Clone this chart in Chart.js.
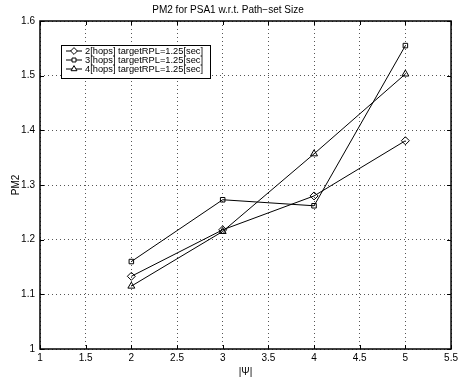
<!DOCTYPE html>
<html lang="en">
<head>
    <meta charset="UTF-8">
    <title>PM2 for PSA1</title>
    <script src="https://cdn.jsdelivr.net/npm/chart.js"></script>
    <style>
        html, body { margin: 0; padding: 0; background: #fff; }
        #wrap { width: 461px; height: 379px; }
    </style>
</head>
<body>
    <div id="wrap"><canvas id="pm2Chart" width="461" height="379"></canvas></div>

    <script>
        const pathSetSizes = [2, 3, 4, 5];
        const hops2 = [1.133, 1.218, 1.280, 1.381];
        const hops3 = [1.160, 1.273, 1.262, 1.555];
        const hops4 = [1.115, 1.215, 1.357, 1.503];
        const seriesLabels = [
            '2[hops] targetRPL=1.25[sec]',
            '3[hops] targetRPL=1.25[sec]',
            '4[hops] targetRPL=1.25[sec]'
        ];
        const markers = ['rectRot', 'rect', 'triangle'];
        const xTicks = [1, 1.5, 2, 2.5, 3, 3.5, 4, 4.5, 5, 5.5];
        const yTicks = [1, 1.1, 1.2, 1.3, 1.4, 1.5, 1.6];

        const FONT = 'Liberation Sans, Arial, sans-serif';

        function toPoints(ys) {
            return pathSetSizes.map((x, i) => ({ x: x, y: ys[i] }));
        }

        function makeSet(label, ys, marker) {
            return {
                label: label,
                data: toPoints(ys),
                showLine: true,
                borderColor: '#000',
                borderWidth: 1,
                pointStyle: marker,
                pointRadius: marker === 'rect' ? 3.2 : 4,
                pointBorderColor: '#000',
                pointBorderWidth: 1,
                pointBackgroundColor: 'rgba(0,0,0,0)'
            };
        }

        // box round the plot with MATLAB style inward ticks
        const boxPlugin = {
            id: 'boxPlugin',
            afterDatasetsDraw(chart) {
                const { ctx, chartArea: a, scales } = chart;
                ctx.save();
                ctx.strokeStyle = '#000';
                ctx.lineWidth = 1;
                ctx.beginPath();
                xTicks.forEach(v => {
                    const px = Math.round(scales.x.getPixelForValue(v)) + 0.5;
                    ctx.moveTo(px, a.bottom); ctx.lineTo(px, a.bottom - 4);
                    ctx.moveTo(px, a.top); ctx.lineTo(px, a.top + 4);
                });
                yTicks.forEach(v => {
                    const py = Math.round(scales.y.getPixelForValue(v)) + 0.5;
                    ctx.moveTo(a.left, py); ctx.lineTo(a.left + 4, py);
                    ctx.moveTo(a.right, py); ctx.lineTo(a.right - 4, py);
                });
                ctx.stroke();
                ctx.lineWidth = 1.5;
                ctx.strokeRect(a.left, a.top, a.right - a.left, a.bottom - a.top);
                ctx.restore();
            }
        };

        // legend box at the upper left, line + marker samples
        const legendPlugin = {
            id: 'legendPlugin',
            afterDraw(chart) {
                const ctx = chart.ctx;
                const bx = 61, by = 45, bw = 149, bh = 33;
                ctx.save();
                ctx.fillStyle = '#fff';
                ctx.fillRect(bx, by, bw, bh);
                ctx.strokeStyle = '#000';
                ctx.lineWidth = 1;
                ctx.strokeRect(bx + 0.5, by + 0.5, bw, bh);
                ctx.font = '9.3px ' + FONT;
                ctx.textBaseline = 'middle';
                chart.data.datasets.forEach((ds, i) => {
                    const y = by + 5.5 + i * 9 + 0.5;
                    ctx.beginPath();
                    ctx.moveTo(66, y); ctx.lineTo(82, y);
                    ctx.stroke();
                    Chart.helpers.drawPoint(ctx, {
                        pointStyle: ds.pointStyle,
                        radius: ds.pointStyle === 'rect' ? 2.8 : 3.4,
                        rotation: 0,
                        borderWidth: 1
                    }, 74, y);
                    ctx.fillStyle = '#000';
                    ctx.fillText(ds.label, 85, y);
                    ctx.fillStyle = '#fff';
                });
                ctx.restore();
            }
        };

        const ctx = document.getElementById('pm2Chart').getContext('2d');
        new Chart(ctx, {
            type: 'scatter',
            data: {
                datasets: [
                    makeSet(seriesLabels[0], hops2, markers[0]),
                    makeSet(seriesLabels[1], hops3, markers[1]),
                    makeSet(seriesLabels[2], hops4, markers[2])
                ]
            },
            options: {
                responsive: false,
                animation: false,
                layout: { padding: { left: 0, right: 5, top: 0, bottom: 0 } },
                plugins: {
                    legend: { display: false },
                    tooltip: { enabled: false },
                    title: {
                        display: true,
                        text: 'PM2 for PSA1 w.r.t. Path\u2212set Size',
                        color: '#000',
                        font: { family: FONT, size: 10, weight: 'normal' },
                        padding: { top: 4, bottom: 5 }
                    }
                },
                scales: {
                    x: {
                        type: 'linear',
                        min: 1,
                        max: 5.5,
                        afterFit: s => { s.height = 30; },
                        afterBuildTicks: s => { s.ticks = xTicks.map(v => ({ value: v })); },
                        ticks: {
                            color: '#000',
                            padding: 3,
                            maxRotation: 0,
                            font: { family: FONT, size: 10 },
                            callback: v => String(v)
                        },
                        grid: { color: '#555', drawTicks: false, lineWidth: 1 },
                        border: { display: false, dash: [1, 3] },
                        title: {
                            display: true,
                            text: '|\u03A8|',
                            color: '#000',
                            font: { family: FONT, size: 10 },
                            padding: { top: 0, bottom: 1 }
                        }
                    },
                    y: {
                        type: 'linear',
                        min: 1,
                        max: 1.6,
                        afterFit: s => { s.width = 40; },
                        afterBuildTicks: s => { s.ticks = yTicks.map(v => ({ value: v })); },
                        ticks: {
                            color: '#000',
                            padding: 5,
                            font: { family: FONT, size: 10 },
                            callback: v => String(Math.round(v * 10) / 10)
                        },
                        grid: { color: '#555', drawTicks: false, lineWidth: 1 },
                        border: { display: false, dash: [1, 3] },
                        title: {
                            display: true,
                            text: 'PM2',
                            color: '#000',
                            font: { family: FONT, size: 10 },
                            padding: { top: 10, bottom: 0 }
                        }
                    }
                }
            },
            plugins: [boxPlugin, legendPlugin]
        });
    </script>
</body>
</html>
